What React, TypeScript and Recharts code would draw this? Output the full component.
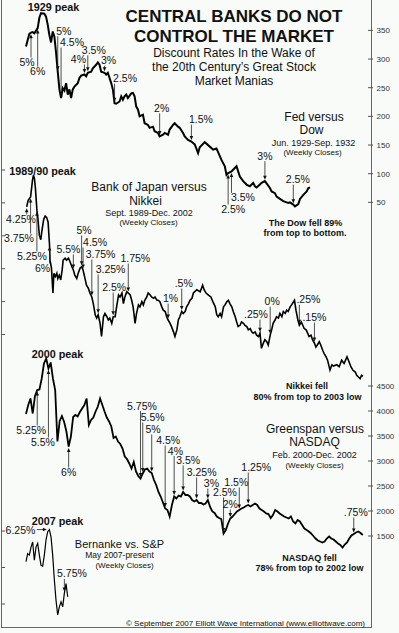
import { Line, LineChart, XAxis, YAxis } from 'recharts'

const FONT = '"Liberation Sans", Arial, Helvetica, sans-serif'
const INK = '#111'
const FRAME = '#666'

// ---- Dow Industrials, weekly closes, Jun 1929 - Sep 1932 (x = week from start)
const DOW_WEEKS = [
  0, 2, 3, 4, 5, 7, 8, 9, 11, 12, 13, 14, 15, 16, 17, 18, 19, 20, 21, 22,
  23, 24, 25, 26, 27, 28, 29, 31, 32, 33, 35, 36, 37, 39, 40, 42, 43, 44, 45, 47,
  48, 49, 51, 52, 53, 54, 56, 57, 58, 59, 60, 61, 63, 64, 65, 66, 67, 68, 70, 71,
  73, 74, 76, 77, 79, 80, 82, 83, 85, 86, 88, 89, 91, 92, 94, 95, 97, 99, 101, 103,
  104, 107, 112, 114, 117, 119, 120, 121, 123, 125, 126, 127, 128, 130, 132, 134, 136, 137, 138, 140,
  141, 143, 144, 146, 147, 149, 150, 152, 154, 156, 157, 158, 160, 161, 163, 164, 166, 168, 169, 170,
]
const DOW_CLOSES = [
  322, 344, 346, 347, 345, 354, 372, 380, 379, 374, 360, 342, 329, 348, 339, 311, 278, 247, 232, 249,
  245, 258, 238, 247, 232, 247, 252, 258, 267, 271, 273, 270, 276, 278, 284, 290, 294, 290, 278, 276,
  273, 276, 258, 247, 223, 222, 226, 235, 229, 235, 238, 232, 240, 241, 235, 217, 212, 200, 203, 188,
  185, 180, 182, 174, 171, 165, 168, 171, 168, 177, 185, 188, 182, 180, 171, 165, 159, 156, 151, 136,
  146, 155, 142, 144, 124, 113, 98, 101, 104, 110, 113, 104, 95, 87, 81, 78, 84, 78, 76, 81,
  84, 87, 83, 75, 69, 66, 60, 56, 52, 50, 49, 50, 46, 43, 47, 56, 63, 69, 75, 76,
]
const DOW_TICKS = [50, 100, 150, 200, 250, 300, 350]
const DOW_RATES = [
  { x: 3, rate: '5%' }, { x: 7, rate: '6%' }, { x: 19, rate: '5%' }, { x: 21, rate: '4.5%' },
  { x: 35, rate: '4%' }, { x: 37, rate: '3.5%' }, { x: 47, rate: '3%' }, { x: 53, rate: '2.5%' },
  { x: 80, rate: '2%' }, { x: 99, rate: '1.5%' }, { x: 121, rate: '2.5%' }, { x: 123, rate: '3.5%' },
  { x: 143, rate: '3%' }, { x: 160, rate: '2.5%' },
]
// label offset from its point (px): [dx, dy]
const DOW_RATE_POS = [
  [-4, 33.3], [0, 47], [6, -37], [11, -52], [-6, -11.5], [6, -19], [4, -8.5], [10.5, -21],
  [2, -24.5], [9.5, -18.5], [5, 40], [11.5, 30], [0, -21.5], [4.5, -21.5],
]

// ---- Nikkei 225, weekly closes, Sep 1989 - Dec 2002
const NIKKEI_WEEKS = [
  0, 3, 8, 12, 14, 16, 18, 21, 23, 26, 29, 31, 35, 38, 41, 44, 47, 48, 51, 52,
  54, 56, 59, 62, 64, 67, 70, 73, 75, 79, 82, 86, 89, 93, 96, 99, 103, 106, 110, 113,
  116, 120, 123, 127, 130, 134, 137, 141, 144, 147, 151, 154, 158, 161, 165, 168, 171, 175, 178, 182,
  185, 189, 192, 196, 199, 202, 206, 209, 213, 216, 219, 223, 226, 230, 233, 237, 240, 243, 247, 250,
  254, 257, 261, 264, 268, 271, 274, 278, 281, 285, 288, 291, 295, 298, 302, 305, 309, 312, 315, 319,
  322, 326, 329, 333, 336, 340, 343, 350, 357, 362, 365, 369, 374, 379, 383, 388, 391, 394, 398, 401,
  405, 408, 412, 415, 418, 422, 425, 429, 432, 435, 439, 442, 446, 449, 453, 456, 460, 463, 466, 470,
  473, 477, 480, 483, 487, 490, 494, 497, 501, 504, 507, 511, 514, 518, 521, 525, 528, 532, 535, 538,
  542, 545, 551, 554, 558, 561, 565, 568, 571, 575, 578, 581, 585, 588, 592, 595, 598, 602, 605, 609,
  612, 616, 619, 624, 628, 631, 638, 643, 648, 653, 659, 663, 667, 671, 676, 679, 683, 686, 689, 692,
]
const NIKKEI_CLOSES = [
  34400, 35400, 35900, 38500, 39200, 38700, 37200, 33900, 32700, 30100,
  29400, 30600, 32500, 33000, 32800, 32100, 28600, 26300, 25100, 23800,
  21300, 24300, 23800, 24300, 23500, 24000, 23300, 24800, 26300, 26600,
  26300, 26600, 26100, 25300, 24800, 24000, 23500, 24300, 25100, 25300,
  24800, 23500, 22500, 22000, 21300, 20700, 19700, 18000, 17500, 18000,
  16700, 14700, 17700, 18200, 17700, 17200, 17500, 16700, 17700, 17700,
  19200, 21000, 20700, 21300, 19700, 20700, 21500, 21300, 21000, 20200,
  19200, 16700, 18200, 19500, 19200, 20000, 19500, 20200, 20700, 21300,
  21000, 20700, 20500, 20700, 20200, 20200, 20000, 19200, 18700, 18500,
  17700, 17200, 16700, 16200, 15400, 14700, 15700, 17200, 17700, 18500,
  18200, 18500, 19200, 19700, 20200, 20500, 21300, 21800, 21500, 22500,
  21800, 21300, 21000, 20700, 20000, 19200, 18000, 17700, 18200, 17700,
  19200, 19500, 20000, 20200, 19700, 19200, 18500, 17700, 16900, 16200,
  16400, 16900, 16700, 16400, 16200, 15700, 15900, 15400, 15200, 15400,
  14900, 14700, 15200, 12900, 13700, 14200, 13900, 13400, 14900, 15700,
  16700, 17200, 17700, 17500, 18200, 17700, 18500, 18200, 18700, 18500,
  19200, 19500, 20200, 18700, 17200, 16400, 16900, 16400, 15900, 15700,
  15200, 14700, 14900, 14200, 13700, 13100, 13400, 13900, 13400, 12600,
  12100, 11600, 11100, 9600, 10400, 10200, 10400, 10100, 11100, 10600,
  11600, 10900, 10100, 9600, 9300, 8800, 8500, 8300, 8800, 8700,
]
const NIKKEI_TICKS = [15000, 20000, 25000, 30000, 35000, 40000]
const NIKKEI_RATES = [
  { x: 0, rate: '4.25%' }, { x: 8, rate: '3.75%' }, { x: 21, rate: '5.25%' }, { x: 47, rate: '6%' },
  { x: 96, rate: '5.5%' }, { x: 113, rate: '5%' }, { x: 116, rate: '4.5%' }, { x: 134, rate: '3.75%' },
  { x: 147, rate: '3.25%' }, { x: 178, rate: '2.5%' }, { x: 209, rate: '1.75%' }, { x: 291, rate: '1%' },
  { x: 319, rate: '.5%' }, { x: 480, rate: '.25%' }, { x: 501, rate: '0%' }, { x: 561, rate: '.25%' },
  { x: 592, rate: '.15%' },
]
const NIKKEI_RATE_POS = [
  [-5.7, 16.2], [-11.6, 45], [-5, 50], [-7, 27], [-5, -17], [2.4, -32.7], [12, -24], [8.7, -39],
  [12.4, -41.8], [1, -25.7], [7, -31], [2.4, -18], [2, -24.5], [-4, -15], [2, -30], [9, -22], [0, -22],
]

// ---- NASDAQ Composite, weekly closes, Feb 2000 - Dec 2002 (one value per week)
const NASDAQ_CLOSES = [
  3940, 4120, 4250, 3950, 4300, 4420, 4430, 4650, 4950, 5050,
  4850, 4970, 4650, 4420, 3390, 3800, 3900, 3780, 3590, 3290,
  3490, 3880, 3920, 3890, 3980, 4050, 4120, 4250, 3720, 3820,
  3870, 3990, 4090, 4250, 4120, 3990, 3870, 3790, 3690, 3460,
  3490, 3390, 3340, 3250, 3090, 3040, 2950, 2850, 2980, 2790,
  2700, 2650, 2750, 2830, 2850, 2790, 2760, 2620, 2520, 2380,
  2290, 2170, 2050, 2020, 1890, 2120, 2290, 2250, 2310, 2290,
  2380, 2320, 2320, 2290, 2220, 2190, 2220, 2160, 2160, 2130,
  2150, 2220, 2080, 1990, 1960, 1890, 1860, 1840, 1550, 1620,
  1750, 1850, 1890, 1940, 1990, 2020, 2050, 2070, 2100, 2120,
  2090, 2120, 2150, 2120, 2050, 2020, 1990, 1950, 1940, 1860,
  1920, 2020, 1990, 1950, 1920, 1890, 1870, 1850, 1890, 1790,
  1750, 1820, 1790, 1720, 1650, 1620, 1590, 1550, 1500, 1450,
  1410, 1390, 1370, 1390, 1450, 1490, 1450, 1430, 1390, 1350,
  1320, 1270, 1330, 1370, 1450, 1510, 1540, 1570, 1590, 1560,
  1520,
]
const NASDAQ_TICKS = [1500, 2000, 2500, 3000, 3500, 4000, 4500]
const NASDAQ_RATES = [
  { x: 5, rate: '5.25%' }, { x: 10, rate: '5.5%' }, { x: 19, rate: '6%' }, { x: 51, rate: '5.75%' },
  { x: 52, rate: '5.5%' }, { x: 56, rate: '5%' }, { x: 62, rate: '4.5%' }, { x: 66, rate: '4%' },
  { x: 70, rate: '3.5%' }, { x: 76, rate: '3.25%' }, { x: 81, rate: '3%' }, { x: 88, rate: '2.5%' },
  { x: 91, rate: '2%' }, { x: 95, rate: '1.5%' }, { x: 99, rate: '1.25%' }, { x: 146, rate: '.75%' },
]
const NASDAQ_RATE_POS = [
  [-6, 44], [-5.5, 77.5], [0, 29.5], [1.5, -69], [10, -52.5], [1.3, -40], [3, -64.5], [1.3, -42],
  [5, -28], [5, -24], [3.6, -13], [1.4, -37.5], [0, -10.5], [-3, -24], [8, -34], [2, -18],
]

// ---- S&P 500 from May 2007
const SP_CLOSES = [
  1508, 1519, 1517, 1528, 1535, 1510, 1528, 1533, 1517, 1503, 1502, 1517, 1538,
  1549, 1552, 1542, 1517, 1483, 1455, 1435, 1446, 1453, 1446, 1465, 1478, 1460,
]
const SP_TICKS = [1450, 1500, 1550]
const SP_RATES = [{ x: 14, rate: '6.25%' }, { x: 23, rate: '5.75%' }]
const SP_RATE_POS = [[-14, 4.5, 1], [7.6, -15.6]]

const dowRows = DOW_WEEKS.map((x, i) => ({ x, v: DOW_CLOSES[i] }))
const nikkeiRows = NIKKEI_WEEKS.map((x, i) => ({ x, v: NIKKEI_CLOSES[i] }))
const nasdaqRows = NASDAQ_CLOSES.map((v, x) => ({ x, v }))
const spRows = SP_CLOSES.map((v, x) => ({ x, v }))

type Rate = { x: number; rate: string }

function RightTick(props: any) {
  const { x, y, payload } = props
  return (
    <g>
      <line x1={x - 3} x2={x + 2} y1={y} y2={y} stroke="#555" strokeWidth={1} />
      <text x={x + 5.5} y={y + 3} fontSize={8} fill="#333" fontFamily={FONT}>
        {payload.value}
      </text>
    </g>
  )
}

function LeftTick(props: any) {
  const { x, y } = props
  return <line x1={x - 0.5} x2={x + 3} y1={y} y2={y} stroke="#555" strokeWidth={1} />
}

function makeNotes(rates: Rate[], pos: number[][]) {
  return (props: any) => {
    const { cx, cy, payload, index } = props
    const i = rates.findIndex((r) => r.x === payload?.x)
    if (i < 0 || cx == null || cy == null) return <g key={`d${index}`} />
    const [dx, dy, horiz] = pos[i]
    const text = rates[i].rate
    const label = { fontSize: 10.5, fill: INK, fontFamily: FONT }
    if (horiz) {
      const tip = cx - 2.5
      return (
        <g key={`d${index}`}>
          <line x1={cx + dx + 1.5} x2={tip - 3} y1={cy} y2={cy} stroke="#222" strokeWidth={0.8} />
          <path d={`M${tip},${cy} l-4,-1.8 l0,3.6 z`} fill="#111" />
          <text x={cx + dx} y={cy + dy} textAnchor="end" {...label}>{text}</text>
        </g>
      )
    }
    const below = dy > 0
    const tip = below ? cy + 1.5 : cy - 1.5
    const tail = below ? cy + dy - 8.5 : cy + dy + 1.5
    const head = below ? `M${cx},${tip} l-1.8,4 l3.6,0 z` : `M${cx},${tip} l-1.8,-4 l3.6,0 z`
    return (
      <g key={`d${index}`}>
        <line x1={cx} x2={cx} y1={tail} y2={below ? tip + 3 : tip - 3} stroke="#222" strokeWidth={0.8} />
        <path d={head} fill="#111" />
        <text x={cx + dx} y={cy + dy} textAnchor="middle" {...label}>{text}</text>
      </g>
    )
  }
}

function Panel(p: {
  rows: { x: number; v: number }[]
  rates: Rate[]
  pos: number[][]
  left: number
  top: number
  width: number
  height: number
  xDomain: [number, number]
  yDomain: [number, number]
  ticks: number[]
  axis: 'left' | 'right'
  strokeWidth: number
}) {
  return (
    <div style={{ position: 'absolute', left: p.left, top: p.top }}>
      <LineChart width={p.width} height={p.height} data={p.rows} margin={{ top: 0, right: 0, bottom: 0, left: 0 }}>
        <XAxis dataKey="x" type="number" domain={p.xDomain} allowDataOverflow hide />
        <YAxis
          type="number"
          domain={p.yDomain}
          allowDataOverflow
          orientation={p.axis}
          width={p.axis === 'right' ? 28 : 1}
          ticks={p.ticks}
          interval={0}
          axisLine={false}
          tickLine={false}
          tickSize={0}
          tickMargin={0}
          tick={p.axis === 'right' ? RightTick : LeftTick}
        />
        <Line
          dataKey="v"
          type="linear"
          stroke="#000"
          strokeWidth={p.strokeWidth}
          dot={makeNotes(p.rates, p.pos)}
          activeDot={false}
          isAnimationActive={false}
        />
      </LineChart>
    </div>
  )
}

type T = [string, number, number, number, boolean?]
// [text, x centre, baseline, font size, bold]
const TEXTS: T[] = [
  ['CENTRAL BANKS DO NOT', 234, 21.5, 17, true],
  ['CONTROL THE MARKET', 234, 41.5, 17, true],
  ['Discount Rates In the Wake of', 234, 56.5, 12],
  ['the 20th Century\u2019s Great Stock', 234, 70.5, 12],
  ['Market Manias', 234, 85, 12],
  ['1929 peak', 53.5, 11, 10.8, true],
  ['Fed versus', 314, 120.5, 12],
  ['Dow', 311.5, 134, 12],
  ['Jun. 1929-Sep. 1932', 313.5, 146, 9],
  ['(Weekly Closes)', 312.5, 155, 8],
  ['The Dow fell 89%', 305.5, 226, 9, true],
  ['from top to bottom.', 305, 236, 9, true],
  ['1989/90 peak', 42.5, 174.5, 10.8, true],
  ['Bank of Japan versus', 149, 190.5, 12],
  ['Nikkei', 145.5, 204.5, 12],
  ['Sept. 1989-Dec. 2002', 149, 216, 9],
  ['(Weekly Closes)', 148.5, 225, 8],
  ['Nikkei fell', 307, 388.7, 9, true],
  ['80% from top to 2003 low', 307.5, 400, 9, true],
  ['2000 peak', 57.5, 357.5, 10.8, true],
  ['Greenspan versus', 315, 432.5, 12],
  ['NASDAQ', 314.5, 445.5, 12],
  ['Feb. 2000-Dec. 2002', 314.5, 458, 9],
  ['(Weekly Closes)', 314.5, 467.5, 8],
  ['NASDAQ fell', 309.5, 560.5, 9, true],
  ['78% from top to 2002 low', 309.5, 571, 9, true],
  ['2007 peak', 57.5, 524.5, 10.8, true],
  ['Bernanke vs. S&P', 119.5, 548, 11],
  ['May 2007-present', 119.5, 557.5, 8.5],
  ['(Weekly Closes)', 124.5, 567.5, 8],
]

export default function App() {
  return (
    <div
      style={{
        position: 'absolute',
        left: 0,
        top: 0,
        width: 399,
        height: 633,
        background: '#f8fbf8',
        overflow: 'hidden',
        fontFamily: FONT,
      }}
    >
      <div
        style={{
          position: 'absolute',
          left: 1,
          top: 0,
          width: 369,
          height: 627,
          borderLeft: `1px solid ${FRAME}`,
          borderRight: `1px solid ${FRAME}`,
          borderBottom: `1px solid ${FRAME}`,
        }}
      />
      <Panel rows={dowRows} rates={DOW_RATES} pos={DOW_RATE_POS} left={2} top={0} width={397} height={231}
        xDomain={[-14.36, 206.5]} yDomain={[0, 403]} ticks={DOW_TICKS} axis="right" strokeWidth={2} />
      <Panel rows={nikkeiRows} rates={NIKKEI_RATES} pos={NIKKEI_RATE_POS} left={1} top={160} width={370} height={240}
        xDomain={[-50.8, 708.4]} yDomain={[5046, 41520]} ticks={NIKKEI_TICKS} axis="left" strokeWidth={1.6} />
      <Panel rows={nasdaqRows} rates={NASDAQ_RATES} pos={NASDAQ_RATE_POS} left={2} top={340} width={397} height={220}
        xDomain={[-10.69, 153.68]} yDomain={[1020, 5420]} ticks={NASDAQ_TICKS} axis="right" strokeWidth={1.8} />
      <Panel rows={spRows} rates={SP_RATES} pos={SP_RATE_POS} left={1} top={510} width={99} height={117}
        xDomain={[-14.39, 44.36]} yDomain={[1418.5, 1578.8]} ticks={SP_TICKS} axis="left" strokeWidth={1.2} />
      <svg width={399} height={633} style={{ position: 'absolute', left: 0, top: 0, pointerEvents: 'none' }}>
        {TEXTS.map(([t, x, y, size, bold], i) => (
          <text key={i} x={x} y={y} textAnchor="middle" fontSize={size} fontWeight={bold ? 700 : 400} fill={INK} fontFamily={FONT}>
            {t}
          </text>
        ))}
        <text x={126} y={625.5} fontSize={8} fill={INK} fontFamily={FONT}>
          © September 2007 Elliott Wave International (www.elliottwave.com)
        </text>
      </svg>
    </div>
  )
}
